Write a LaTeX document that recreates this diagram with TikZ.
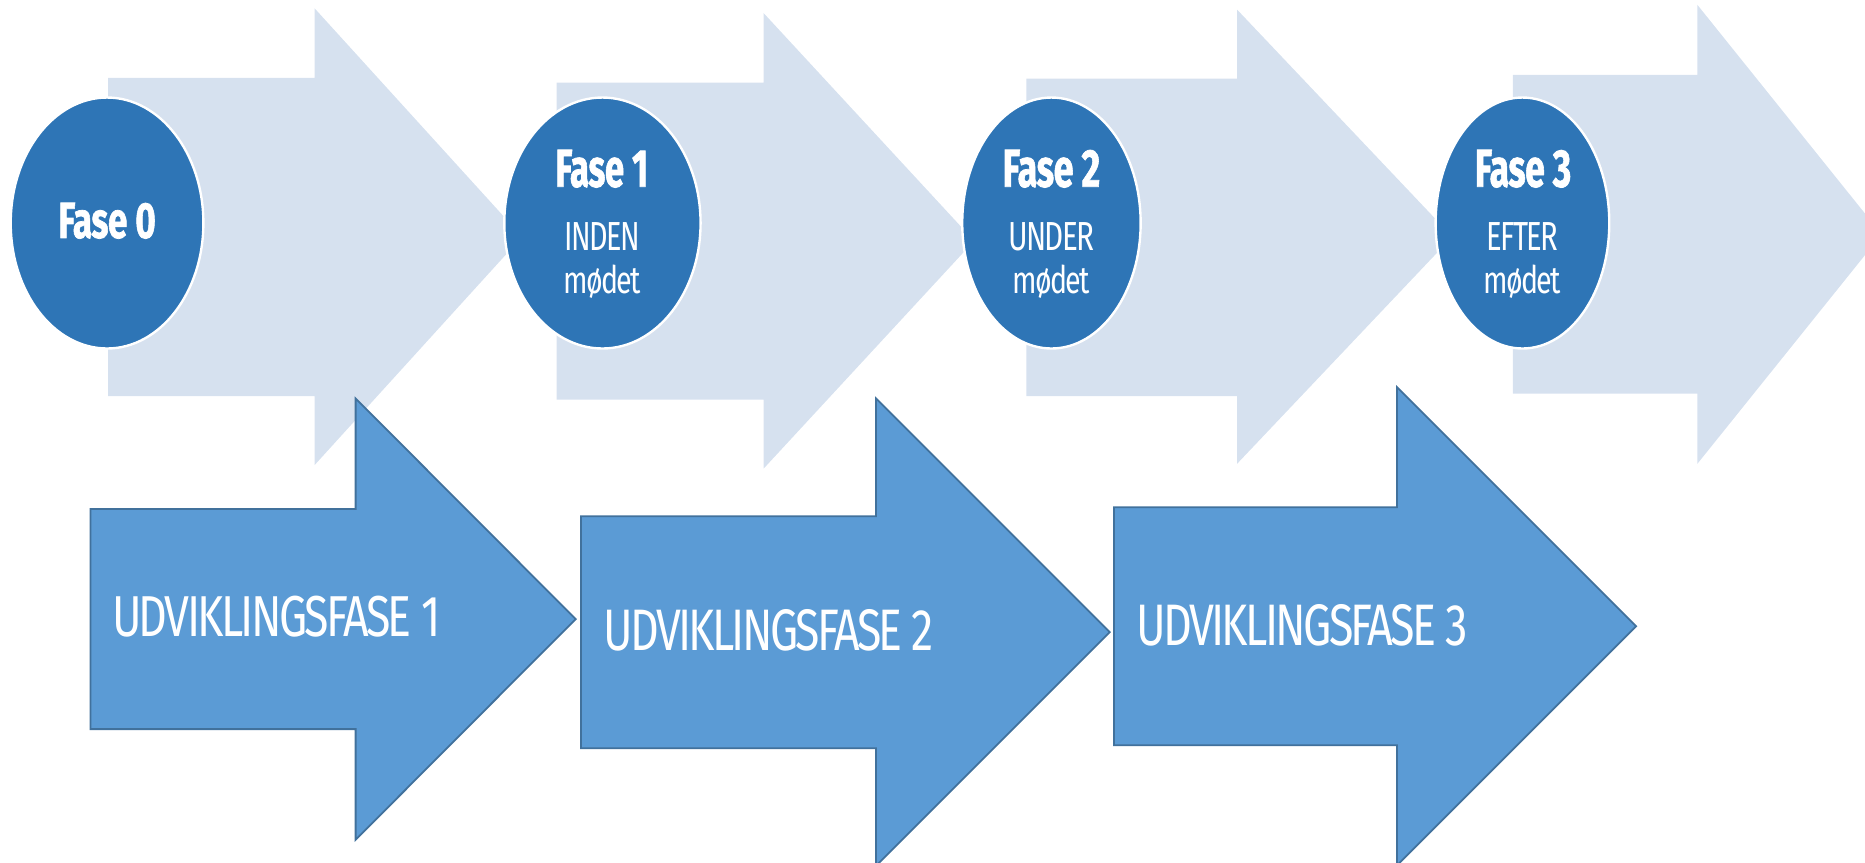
\documentclass[tikz,border=0pt]{standalone}
\usepackage{fontspec}
\setmainfont{Fira Sans}[UprightFeatures={LetterSpace=-6}, BoldFeatures={FakeBold=1.5, LetterSpace=-1}]
\usepackage{graphicx}
\usetikzlibrary{shapes.geometric}
\definecolor{lightarr}{HTML}{D6E1EF}
\definecolor{ellblue}{HTML}{2E75B6}
\definecolor{darkfill}{HTML}{5B9BD5}
\definecolor{darkline}{HTML}{41719C}
\tikzset{
  lightarrow/.style={fill=lightarr, draw=none},
  darkarrow/.style={fill=darkfill, draw=darkline, line width=1.5pt, line join=miter},
  phase/.style={ellipse, fill=ellblue, draw=white, line width=2pt, inner sep=0pt},
  txt/.style={text=white, inner sep=0pt, anchor=base},
  txtl/.style={text=white, inner sep=0pt, anchor=base west}
}
\begin{document}
\begin{tikzpicture}[x=1pt,y=-1pt]
\useasboundingbox (0,0) rectangle (1568,725);
\begin{scope}
\clip (0,0) rectangle (1568,725);
% light arrows
\fill[lightarrow] (91,65.5) -- (264.5,65.5) -- (264.5,7) -- (439,199) -- (264.5,391) -- (264.5,333) -- (91,333) -- cycle;
\fill[lightarrow] (468,69.5) -- (642,69.5) -- (642,11) -- (819,202.5) -- (642,394) -- (642,336) -- (468,336) -- cycle;
\fill[lightarrow] (863,66) -- (1040,66) -- (1040,8) -- (1221,199) -- (1040,390) -- (1040,333) -- (863,333) -- cycle;
\fill[lightarrow] (1272,63) -- (1427,63) -- (1427,4) -- (1582,197) -- (1427,390) -- (1427,331) -- (1272,331) -- cycle;
% phase ellipses
\node[phase, minimum width=162pt, minimum height=211pt] (e0) at (90,187.5) {};
\node[phase, minimum width=165pt, minimum height=211pt] (e1) at (506.5,187.5) {};
\node[phase, minimum width=150pt, minimum height=211pt] (e2) at (884,187.5) {};
\node[phase, minimum width=146pt, minimum height=211pt] (e3) at (1280,187.5) {};
% phase texts
\node[txt] (f0) at (90,200) {\resizebox{82pt}{29.5pt}{\bfseries Fase 0}};
\node[txt] (f1) at (506,157) {\resizebox{78pt}{31pt}{\bfseries Fase 1}};
\node[txt] (f2) at (884,157) {\resizebox{82pt}{31pt}{\bfseries Fase 2}};
\node[txt] (f3) at (1280.5,157) {\resizebox{81pt}{31pt}{\bfseries Fase 3}};
\node[txt] (w1) at (506.5,211) {\resizebox{63pt}{23.5pt}{INDEN}};
\node[txt] (w2) at (884,211) {\resizebox{72pt}{23.5pt}{UNDER}};
\node[txt] (w3) at (1280,211) {\resizebox{60pt}{23.5pt}{EFTER}};
\node[txt] (m1) at (506.5,247) {\resizebox{65pt}{24pt}{mødet}};
\node[txt] (m2) at (884,247) {\resizebox{65pt}{24pt}{mødet}};
\node[txt] (m3) at (1280,247) {\resizebox{65pt}{24pt}{mødet}};
% dark arrows
\draw[darkarrow] (76,428) -- (299,428) -- (299,335) -- (484,520.5) -- (299,706) -- (299,613) -- (76,613) -- cycle;
\draw[darkarrow] (488.5,434) -- (736.5,434) -- (736.5,335) -- (933,531.5) -- (736.5,728) -- (736.5,629) -- (488.5,629) -- cycle;
\draw[darkarrow] (936.5,426.5) -- (1174.5,426.5) -- (1174.5,325.5) -- (1375.5,526.5) -- (1174.5,727.5) -- (1174.5,626.5) -- (936.5,626.5) -- cycle;
\node[txtl] (u1) at (94,535.5) {\resizebox{276pt}{34pt}{UDVIKLINGSFASE 1}};
\node[txtl] (u2) at (507,546.5) {\resizebox{278pt}{34.5pt}{UDVIKLINGSFASE 2}};
\node[txtl] (u3) at (955,542.5) {\resizebox{279pt}{34.5pt}{UDVIKLINGSFASE 3}};
\end{scope}
\end{tikzpicture}
\end{document}
